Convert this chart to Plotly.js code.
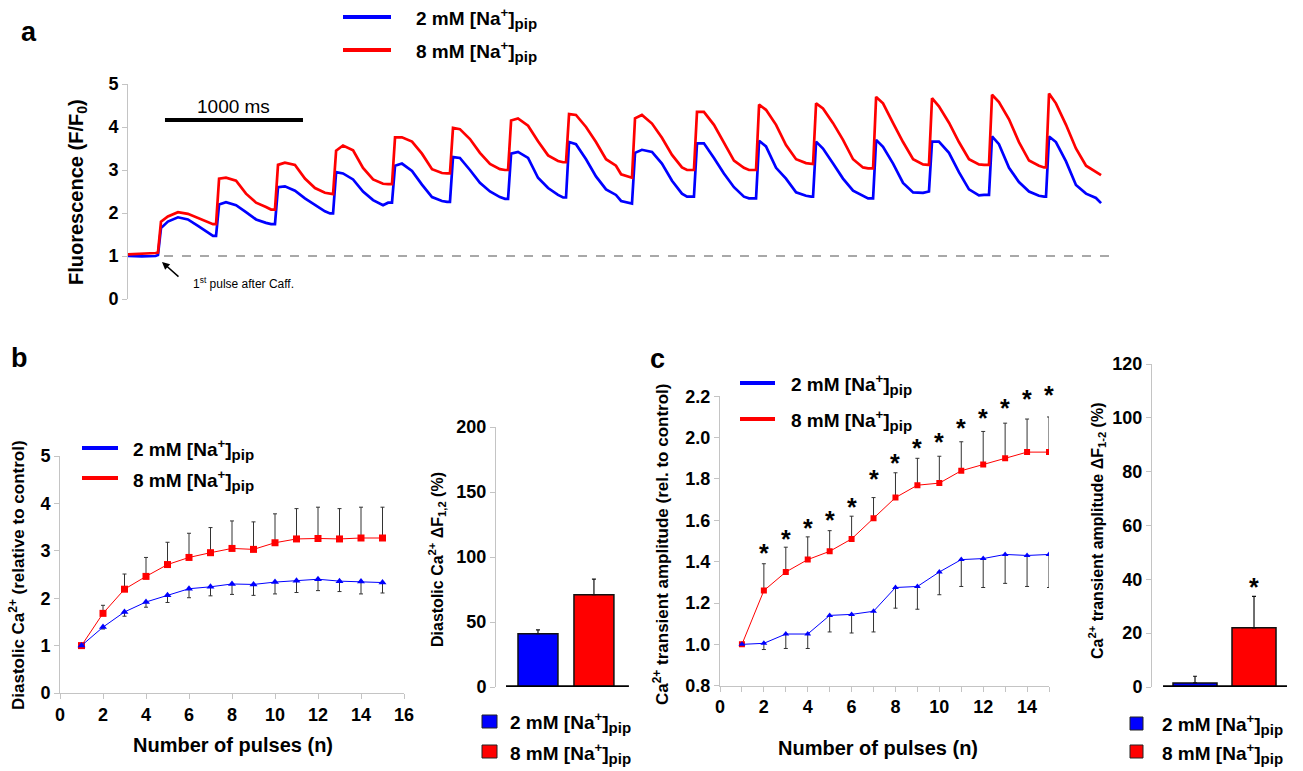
<!DOCTYPE html>
<html>
<head>
<meta charset="utf-8">
<script src="https://cdn.plot.ly/plotly-3.0.1.min.js"></script>
<style>html,body{margin:0;padding:0;background:#fff}#chart{width:1303px;height:771px}</style>
</head>
<body>
<div id="chart"></div>
<script>
// ---------- Panel a: fluorescence traces (F/F0) ----------
const baselineTimeMs = [0, 100, 200];
const baselineRed = [1.04, 1.05, 1.07];
const baselineBlue = [1.00, 0.99, 1.00];
const pulseOnsetMs = [217, 638, 1065, 1486, 1913, 2333, 2754, 3174, 3652, 4101, 4551, 4964, 5399, 5804, 6239, 6652];
const sampleOffsetMs = [0, 22, 72, 145, 217, 290, 362, 399];
const redCycles = [
  [1.08, 1.80, 1.92, 2.02, 1.98, 1.88, 1.78, 1.74],
  [1.74, 2.80, 2.82, 2.75, 2.45, 2.24, 2.14, 2.08],
  [2.08, 3.12, 3.17, 3.12, 2.80, 2.58, 2.47, 2.44],
  [2.44, 3.45, 3.57, 3.46, 3.05, 2.78, 2.68, 2.67],
  [2.67, 3.76, 3.76, 3.66, 3.38, 3.02, 2.93, 2.92],
  [2.92, 3.98, 3.95, 3.72, 3.40, 3.14, 3.02, 3.00],
  [3.00, 4.15, 4.20, 4.03, 3.67, 3.34, 3.21, 3.18],
  [3.18, 4.30, 4.28, 4.00, 3.65, 3.25, 3.10, 2.90],
  [2.82, 4.20, 4.28, 4.08, 3.75, 3.35, 3.06, 3.00],
  [3.00, 4.35, 4.35, 4.05, 3.62, 3.22, 3.05, 3.00],
  [3.00, 4.52, 4.40, 4.05, 3.58, 3.25, 3.16, 3.14],
  [3.14, 4.55, 4.43, 4.09, 3.70, 3.25, 3.06, 3.04],
  [3.04, 4.70, 4.55, 4.09, 3.65, 3.25, 3.13, 3.12],
  [3.12, 4.67, 4.48, 4.10, 3.65, 3.25, 3.13, 3.12],
  [3.12, 4.75, 4.58, 4.18, 3.65, 3.22, 3.10, 3.06],
  [3.06, 4.78, 4.55, 4.05, 3.50, 3.10, 2.95, 2.88]
];
const blueCycles = [
  [1.02, 1.65, 1.80, 1.90, 1.85, 1.70, 1.55, 1.47],
  [1.47, 2.20, 2.25, 2.18, 2.02, 1.85, 1.77, 1.74],
  [1.74, 2.60, 2.62, 2.52, 2.34, 2.18, 2.04, 1.99],
  [1.99, 2.95, 2.92, 2.78, 2.50, 2.30, 2.18, 2.24],
  [2.24, 3.10, 3.15, 2.98, 2.66, 2.37, 2.28, 2.26],
  [2.26, 3.30, 3.28, 3.00, 2.70, 2.50, 2.37, 2.33],
  [2.33, 3.38, 3.42, 3.28, 2.82, 2.58, 2.42, 2.36],
  [2.36, 3.65, 3.60, 3.25, 2.85, 2.55, 2.42, 2.28],
  [2.22, 3.40, 3.47, 3.42, 3.15, 2.75, 2.45, 2.38],
  [2.38, 3.62, 3.62, 3.28, 2.92, 2.60, 2.38, 2.34],
  [2.34, 3.68, 3.55, 3.05, 2.80, 2.48, 2.40, 2.38],
  [2.38, 3.66, 3.50, 3.15, 2.80, 2.52, 2.40, 2.34],
  [2.34, 3.70, 3.54, 3.15, 2.70, 2.48, 2.47, 2.50],
  [2.50, 3.66, 3.66, 3.40, 2.95, 2.55, 2.41, 2.42],
  [2.42, 3.78, 3.60, 3.05, 2.72, 2.50, 2.40, 2.38],
  [2.38, 3.78, 3.65, 3.20, 2.65, 2.45, 2.35, 2.23]
];
const scaleBarMs = [268, 1268];
const scaleBarLevel = 4.16;
const recordEndMs = 7152;

// ---------- Panel b ----------
const pulses = [1,2,3,4,5,6,7,8,9,10,11,12,13,14,15];
const diastolic8 = [1.00, 1.68, 2.19, 2.46, 2.71, 2.86, 2.96, 3.05, 3.03, 3.17, 3.25, 3.26, 3.25, 3.27, 3.27];
const diastolic8Err = [0, 0.17, 0.32, 0.40, 0.47, 0.51, 0.53, 0.58, 0.58, 0.61, 0.64, 0.66, 0.64, 0.65, 0.65];
const diastolic2 = [1.00, 1.39, 1.71, 1.92, 2.06, 2.20, 2.24, 2.30, 2.29, 2.34, 2.37, 2.40, 2.36, 2.35, 2.33];
const diastolic2Err = [0, 0.04, 0.09, 0.11, 0.15, 0.19, 0.19, 0.22, 0.23, 0.25, 0.25, 0.24, 0.22, 0.26, 0.22];
const barGroups = ['2 mM', '8 mM'];
const diastolicDF = [41, 71];
const diastolicDFErr = [3, 12];

// ---------- Panel c ----------
const amp8 = [1.00, 1.26, 1.35, 1.41, 1.45, 1.51, 1.61, 1.71, 1.77, 1.78, 1.84, 1.87, 1.90, 1.93, 1.93];
const amp8Err = [0, 0.13, 0.12, 0.11, 0.10, 0.11, 0.10, 0.12, 0.13, 0.13, 0.14, 0.16, 0.17, 0.16, 0.17];
const amp2 = [1.00, 1.005, 1.05, 1.05, 1.14, 1.145, 1.16, 1.275, 1.28, 1.35, 1.41, 1.415, 1.435, 1.43, 1.435];
const amp2Err = [0, 0.03, 0.07, 0.07, 0.08, 0.09, 0.10, 0.10, 0.11, 0.11, 0.13, 0.14, 0.14, 0.15, 0.16];
const starPulses = [2,3,4,5,6,7,8,9,10,11,12,13,14,15];
const starLevels = [1.465, 1.535, 1.587, 1.626, 1.689, 1.823, 1.903, 1.973, 2.002, 2.073, 2.118, 2.166, 2.211, 2.231];
const ampDF = [1.5, 22];
const ampDFErr = [2.5, 11.7];
const ampDFStarLevel = 39;

// ---------- helpers ----------
const W = 1303, H = 771;
const px = x => x / W;
const py = y => 1 - y / H;
const FONT = '"Liberation Sans", Arial, sans-serif';
const BLUE = '#0000ff', RED = '#ff0000', GRAY = '#c4c4c4';
const naLabel = c => c + ' mM [Na<sup>+</sup>]<sub><span style="font-size:15px">pip</span></sub>';
const NA2 = naLabel('2');
const NA8 = naLabel('8');

function buildTrace(cycles, base) {
  const xs = baselineTimeMs.slice(), ys = base.slice();
  cycles.forEach((row, i) => {
    row.forEach((v, j) => { xs.push(pulseOnsetMs[i] + sampleOffsetMs[j]); ys.push(v); });
  });
  return {x: xs, y: ys};
}
const redA = buildTrace(redCycles, baselineRed);
const blueA = buildTrace(blueCycles, baselineBlue);

const traces = [
  {x: blueA.x, y: blueA.y, xaxis: 'x', yaxis: 'y', mode: 'lines', line: {color: BLUE, width: 2.7}, name: '2 mM'},
  {x: redA.x, y: redA.y, xaxis: 'x', yaxis: 'y', mode: 'lines', line: {color: RED, width: 2.7}, name: '8 mM'},
  // b line
  {x: pulses, y: diastolic8, xaxis: 'x2', yaxis: 'y2', mode: 'lines+markers',
   line: {color: RED, width: 1}, marker: {symbol: 'square', size: 7, color: RED},
   error_y: {type: 'data', symmetric: false, array: diastolic8Err, arrayminus: pulses.map(() => 0), color: '#333', thickness: 1, width: 2}},
  {x: pulses, y: diastolic2, xaxis: 'x2', yaxis: 'y2', mode: 'lines+markers',
   line: {color: BLUE, width: 1}, marker: {symbol: 'triangle-up', size: 7, color: BLUE},
   error_y: {type: 'data', symmetric: false, array: pulses.map(() => 0), arrayminus: diastolic2Err, color: '#333', thickness: 1, width: 2}},
  // b bar
  {x: [0, 1], y: diastolicDF, type: 'bar', xaxis: 'x3', yaxis: 'y3', width: 0.714,
   marker: {color: [BLUE, RED], line: {color: '#111', width: 1.5}},
   error_y: {type: 'data', symmetric: false, array: diastolicDFErr, arrayminus: [0, 0], color: '#111', thickness: 1.2, width: 2}},
  // c line
  {x: pulses, y: amp8, xaxis: 'x4', yaxis: 'y4', mode: 'lines+markers',
   line: {color: RED, width: 1}, marker: {symbol: 'square', size: 6, color: RED},
   error_y: {type: 'data', symmetric: false, array: amp8Err, arrayminus: pulses.map(() => 0), color: '#333', thickness: 1, width: 2}},
  {x: pulses, y: amp2, xaxis: 'x4', yaxis: 'y4', mode: 'lines+markers',
   line: {color: BLUE, width: 1}, marker: {symbol: 'triangle-up', size: 6, color: BLUE},
   error_y: {type: 'data', symmetric: false, array: pulses.map(() => 0), arrayminus: amp2Err, color: '#333', thickness: 1, width: 2}},
  // c bar
  {x: [0, 1], y: ampDF, type: 'bar', xaxis: 'x5', yaxis: 'y5', width: 0.746,
   marker: {color: [BLUE, RED], line: {color: '#111', width: 1.5}},
   error_y: {type: 'data', symmetric: false, array: ampDFErr, arrayminus: [0, 0], color: '#111', thickness: 1.2, width: 2}}
];

const tickFont = {family: FONT, size: 18, color: '#000', weight: 'bold'};
function yax(domain, range, dtick, extra) {
  return Object.assign({domain: domain, range: range, dtick: dtick, showline: true, linecolor: GRAY, linewidth: 1,
    ticks: 'outside', ticklen: 5, tickcolor: GRAY, tickfont: tickFont, showgrid: false, zeroline: false, fixedrange: true}, extra || {});
}
function xax(domain, range, extra) {
  return Object.assign({domain: domain, range: range, showline: true, linecolor: GRAY, linewidth: 1,
    ticks: 'outside', ticklen: 5, tickcolor: GRAY, tickfont: tickFont, showgrid: false, zeroline: false, fixedrange: true}, extra || {});
}

const yDomC = [py(685.7), py(396.3)];
const yRangeC = [0.8, 2.2];

const layout = {
  width: W, height: H, margin: {l: 0, r: 0, t: 0, b: 0},
  paper_bgcolor: '#fff', plot_bgcolor: 'rgba(0,0,0,0)', showlegend: false,
  font: {family: FONT, color: '#000'},
  xaxis: {domain: [px(128), px(1115)], range: [0, recordEndMs], visible: false, anchor: 'y', fixedrange: true},
  yaxis: yax([py(299), py(84)], [0, 5], 1, {anchor: 'x'}),
  xaxis2: xax([px(60), px(404)], [0, 16], {anchor: 'y2', dtick: 2}),
  yaxis2: yax([py(693), py(456)], [0, 5], 1, {anchor: 'x2'}),
  xaxis3: {domain: [px(496), px(632)], range: [-0.75, 1.68], visible: false, anchor: 'y3', fixedrange: true},
  yaxis3: yax([py(687), py(427)], [0, 200], 50, {anchor: 'x3'}),
  xaxis4: xax([px(720), px(1049)], [0, 15], {anchor: 'y4', dtick: 2, tick0: 0,
    minor: {dtick: 1, tick0: 0, ticks: 'outside', ticklen: 5, tickcolor: GRAY, showgrid: false}}),
  yaxis4: yax(yDomC, yRangeC, 0.2, {anchor: 'x4', tickformat: '.1f'}),
  xaxis5: {domain: [px(1152), px(1290)], range: [-0.729, 1.61], visible: false, anchor: 'y5', fixedrange: true},
  yaxis5: yax([py(687), py(364)], [0, 120], 20, {anchor: 'x5'}),
  shapes: [],
  annotations: []
};

// Panel a decorations
layout.shapes.push({type: 'line', xref: 'x', yref: 'y', x0: 0, x1: recordEndMs, y0: 1, y1: 1, line: {color: '#8c8c8c', width: 1.5, dash: 'dash'}, layer: 'below'});
layout.shapes.push({type: 'line', xref: 'x', yref: 'y', x0: scaleBarMs[0], x1: scaleBarMs[1], y0: scaleBarLevel, y1: scaleBarLevel, line: {color: '#000', width: 4}});
// bar baselines
layout.shapes.push({type: 'line', xref: 'x3', yref: 'y3', x0: -0.571, x1: 1.625, y0: 0, y1: 0, line: {color: '#000', width: 3.5}});
layout.shapes.push({type: 'line', xref: 'x5', yref: 'y5', x0: -0.542, x1: 1.559, y0: 0, y1: 0, line: {color: '#000', width: 3.5}});

function legendLine(x0, x1, y, color) {
  layout.shapes.push({type: 'line', xref: 'paper', yref: 'paper', x0: px(x0), x1: px(x1), y0: py(y), y1: py(y), line: {color: color, width: 4}});
}
function legendBox(x0, x1, y0, y1, color) {
  layout.shapes.push({type: 'rect', xref: 'paper', yref: 'paper', x0: px(x0), x1: px(x1), y0: py(y1), y1: py(y0), fillcolor: color, line: {color: '#222', width: 1}});
}
function txt(x, y, text, size, opts) {
  layout.annotations.push(Object.assign({xref: 'paper', yref: 'paper', x: px(x), y: py(y), text: text, showarrow: false,
    font: {family: FONT, size: size, color: '#000', weight: 'bold'}, xanchor: 'center', yanchor: 'middle'}, opts || {}));
}

// legends
const LG = 19;
legendLine(343, 391, 17, BLUE); legendLine(343, 391, 50, RED);
txt(414, 18, NA2, LG, {xanchor: 'left'}); txt(414, 52, NA8, LG, {xanchor: 'left'});
legendLine(82, 118, 448, BLUE); legendLine(82, 118, 478, RED);
txt(131, 449, NA2, LG, {xanchor: 'left'}); txt(131, 480, NA8, LG, {xanchor: 'left'});
legendLine(740, 775, 383, BLUE); legendLine(740, 775, 419, RED);
txt(789, 384, NA2, LG, {xanchor: 'left'}); txt(789, 421, NA8, LG, {xanchor: 'left'});
legendBox(482, 497, 715, 728, BLUE); legendBox(482, 497, 745, 758, RED);
txt(508, 722, NA2, LG, {xanchor: 'left'}); txt(508, 753, NA8, LG, {xanchor: 'left'});
legendBox(1130, 1143, 717, 730, BLUE); legendBox(1130, 1143, 745, 758, RED);
txt(1160, 724, NA2, LG, {xanchor: 'left'}); txt(1160, 753, NA8, LG, {xanchor: 'left'});

// panel letters
txt(29, 32, 'a', 27); txt(19, 358, 'b', 27); txt(658, 359, 'c', 27);

// axis titles
txt(77, 192, 'Fluorescence (F/F<sub>0</sub>)', 20, {textangle: -90});
txt(17, 575, 'Diastolic Ca<sup>2+</sup> (relative to control)', 17, {textangle: -90});
txt(233, 745, 'Number of pulses (n)', 20);
txt(437, 560, 'Diastolic Ca<sup>2+</sup> ΔF<sub>1,2</sub> (%)', 16, {textangle: -90});
txt(661, 545, 'Ca<sup>2+</sup> transient amplitude (rel. to control)', 17, {textangle: -90});
txt(878, 748, 'Number of pulses (n)', 20);
txt(1097, 531, 'Ca<sup>2+</sup> transient amplitude ΔF<sub>1-2</sub> (%)', 16, {textangle: -90});

// scale bar label and arrow note
layout.annotations.push({xref: 'x', yref: 'y', x: (scaleBarMs[0] + scaleBarMs[1]) / 2, y: scaleBarLevel, yshift: 14, text: '1000 ms', showarrow: false,
  font: {family: FONT, size: 19, color: '#000'}, xanchor: 'center', yanchor: 'middle'});
txt(191, 283, '1<sup>st</sup> pulse after Caff.', 12, {xanchor: 'left', font: {family: FONT, size: 12, color: '#000'}});
layout.annotations.push({xref: 'paper', yref: 'paper', x: px(162), y: py(262), ax: 18, ay: 16, axref: 'pixel', ayref: 'pixel',
  text: '', showarrow: true, arrowhead: 2, arrowsize: 1, arrowwidth: 1.5, arrowcolor: '#000'});

// significance stars (placed from their data levels through the y-axis mapping, so the top ones are not hidden)
const yToPaperC = v => yDomC[0] + (v - yRangeC[0]) / (yRangeC[1] - yRangeC[0]) * (yDomC[1] - yDomC[0]);
starPulses.forEach((n, i) => {
  layout.annotations.push({xref: 'x4', yref: 'paper', x: n, y: yToPaperC(starLevels[i]), text: '*', showarrow: false, yshift: -5,
    font: {family: FONT, size: 25, color: '#000', weight: 'bold'}, xanchor: 'center', yanchor: 'middle'});
});
layout.annotations.push({xref: 'x5', yref: 'y5', x: 1, y: ampDFStarLevel, text: '*', showarrow: false, yshift: -5,
  font: {family: FONT, size: 25, color: '#000', weight: 'bold'}, xanchor: 'center', yanchor: 'middle'});

Plotly.newPlot('chart', traces, layout, {displayModeBar: false, staticPlot: true});
</script>
</body>
</html>
